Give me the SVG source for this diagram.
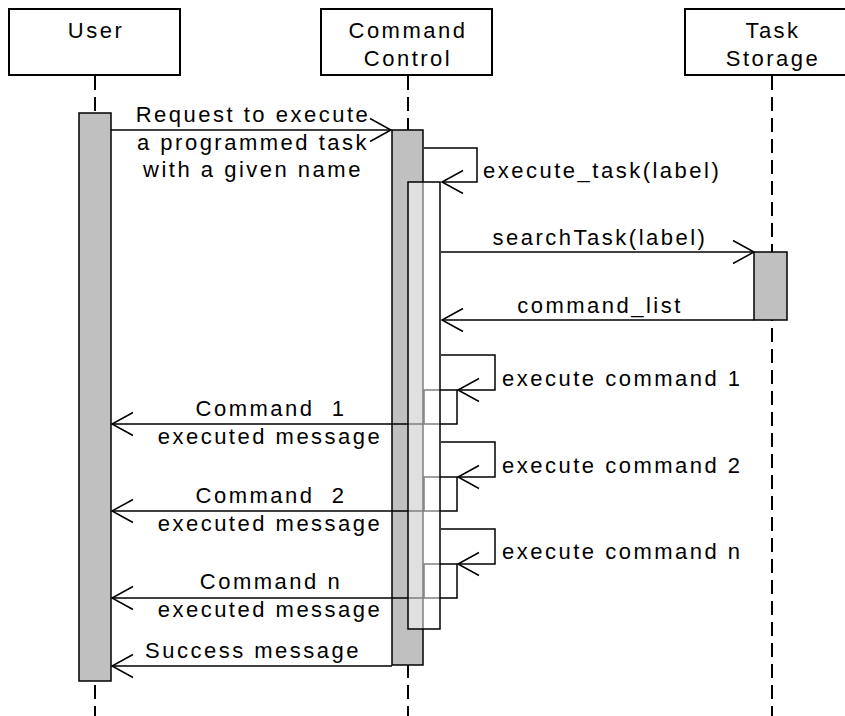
<svg xmlns="http://www.w3.org/2000/svg" width="845" height="716" viewBox="0 0 845 716">
<style>
text{font-family:"Liberation Sans",Arial,sans-serif;font-size:22px;letter-spacing:2.5px;fill:#000;white-space:pre}
.c{text-anchor:middle}
.hdr{fill:#fff;stroke:#000;stroke-width:2}
.life{stroke:#000;stroke-width:2;stroke-dasharray:14,7;fill:none}
.bar{fill:#c0c0c0;stroke:#000;stroke-width:1.5}
.msg{fill:none;stroke:#000;stroke-width:1.5}
.sub{fill:#fff;stroke:#000;stroke-width:1.5}
</style>
<defs>
<marker id="open" markerUnits="userSpaceOnUse" orient="auto" refX="0" refY="0" markerWidth="30" markerHeight="30" overflow="visible">
<path d="M-21,-11.5 L0,0 L-21,11.5" fill="none" stroke="#000" stroke-width="1.5"/>
</marker>
</defs>

<g id="lifelines">
<line class="life" x1="95" y1="76" x2="95" y2="716"/>
<line class="life" x1="408" y1="76" x2="408" y2="716"/>
<line class="life" x1="772" y1="76" x2="772" y2="716"/>
</g>

<g id="user">
<rect class="hdr" x="9" y="9" width="171" height="66"/>
<text class="c" x="96" y="38">User</text>
<rect class="bar" x="79" y="113" width="32" height="568"/>
</g>

<g id="command-control">
<rect class="hdr" x="321" y="9" width="171" height="66"/>
<text class="c" x="408" y="38">Command</text>
<text class="c" x="408" y="66">Control</text>
<rect class="bar" x="392" y="130" width="31" height="535"/>
</g>

<g id="task-storage">
<rect class="hdr" x="685" y="9" width="171" height="66"/>
<text class="c" x="773" y="38">Task</text>
<text class="c" x="773" y="66">Storage</text>
<rect class="bar" x="754" y="252" width="33" height="68"/>
</g>

<g id="connectors">
<line class="msg" x1="111" y1="130" x2="391" y2="130" marker-end="url(#open)"/>
<polyline class="msg" points="424,148 477,148 477,182 442,182" marker-end="url(#open)"/>
<line class="msg" x1="441" y1="252" x2="754" y2="252" marker-end="url(#open)"/>
<line class="msg" x1="754" y1="320" x2="442" y2="320" marker-end="url(#open)"/>

<polyline class="msg" points="441,355 495,355 495,390 458,390" marker-end="url(#open)"/>
<line class="msg" x1="424" y1="424" x2="112" y2="424" marker-end="url(#open)"/>
<rect class="sub" x="424" y="390" width="33" height="34"/>

<polyline class="msg" points="441,442 495,442 495,477 458,477" marker-end="url(#open)"/>
<line class="msg" x1="424" y1="511" x2="112" y2="511" marker-end="url(#open)"/>
<rect class="sub" x="424" y="477" width="33" height="34"/>

<polyline class="msg" points="441,529 495,529 495,564 458,564" marker-end="url(#open)"/>
<line class="msg" x1="424" y1="598" x2="112" y2="598" marker-end="url(#open)"/>
<rect class="sub" x="424" y="564" width="33" height="34"/>

<line class="msg" x1="392" y1="666" x2="112" y2="666" marker-end="url(#open)"/>
</g>

<g id="execute-task-activation">
<rect x="408" y="182" width="32" height="447" fill="#fff" fill-opacity="0.5"/>
<rect x="408" y="182" width="32" height="447" fill="none" stroke="#000" stroke-width="1.5"/>
</g>

<g id="labels">
<text class="c" x="253" y="122">Request to execute</text>
<text class="c" x="253" y="150">a programmed task</text>
<text class="c" x="253" y="177">with a given name</text>
<text x="483" y="178">execute_task(label)</text>
<text class="c" x="600" y="245">searchTask(label)</text>
<text class="c" x="600" y="313">command_list</text>
<text x="502" y="386">execute command 1</text>
<text x="502" y="473">execute command 2</text>
<text x="502" y="559">execute command n</text>
<text class="c" x="271" y="416">Command  1</text>
<text class="c" x="270" y="444">executed message</text>
<text class="c" x="271" y="503">Command  2</text>
<text class="c" x="270" y="531">executed message</text>
<text class="c" x="271" y="589">Command n</text>
<text class="c" x="270" y="617">executed message</text>
<text class="c" x="253" y="658">Success message</text>
</g>
</svg>
